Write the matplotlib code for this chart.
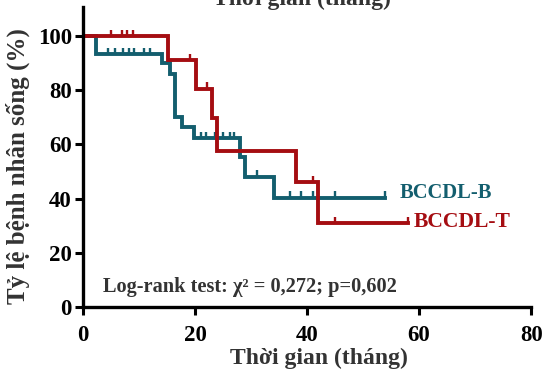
import numpy as np
import matplotlib
matplotlib.use("Agg")
import matplotlib.pyplot as plt

# BCCDL-B (xanh)
b_time = [0, 2.3, 14.1, 15.5, 16.5, 17.6, 19.8, 28.0, 28.9, 34.1, 54.0]
b_surv = [100, 93.3, 90.0, 86.0, 70.0, 66.4, 62.3, 55.5, 48.0, 40.3, 40.3]
b_cens = [4.5, 5.7, 7.1, 8.3, 9.2, 10.9, 12.0, 21.0, 22.0, 23.5, 25.0, 26.3, 27.0,
          31.0, 37.0, 39.0, 41.0, 45.0, 54.0]

# BCCDL-T (do)
t_time = [0, 15.1, 20.2, 23.1, 24.0, 38.0, 42.0, 58.0]
t_surv = [100, 91.0, 80.5, 69.6, 57.7, 46.0, 30.9, 30.9]
t_cens = [5.0, 6.9, 7.8, 9.0, 19.1, 22.1, 41.0, 45.0, 58.0]

blue = '#135e6e'
red = '#a50d12'
grey = '#333333'

plt.rcParams['font.family'] = ['Liberation Serif', 'DejaVu Serif']
plt.rcParams['font.weight'] = 'bold'

fig = plt.figure(figsize=(5.42, 3.73), dpi=100)
ax = fig.add_axes([0.153, 0.177, 0.827, 0.804])


def surv_at(times, surv, x):
    i = np.searchsorted(times, x, side='right') - 1
    return np.array(surv)[i]


for tt, ss, cc, col in [(b_time, b_surv, b_cens, blue), (t_time, t_surv, t_cens, red)]:
    ax.step(tt, ss, where='post', color=col, lw=2.8, solid_joinstyle='miter')
    cy = surv_at(tt, ss, cc)
    ax.vlines(cc, cy, cy + 2.4, color=col, lw=1.7)

ax.set_xlim(0, 80)
ax.set_ylim(0, 110.7)
ax.set_xticks([0, 20, 40, 60, 80])
ax.set_yticks([0, 20, 40, 60, 80, 100])
for s in ['top', 'right']:
    ax.spines[s].set_visible(False)
for s in ['left', 'bottom']:
    ax.spines[s].set_linewidth(2.4)
ax.tick_params(width=2.2, length=6, labelsize=16.5)
ax.tick_params(axis='x', pad=7)
ax.tick_params(axis='y', pad=2)
for lab in ax.get_xticklabels() + ax.get_yticklabels():
    lab.set_fontweight('bold')

ax.set_xlabel('Thời gian (tháng)', fontsize=17, fontweight='bold', color=grey)
ax.set_ylabel('Tỷ lệ bệnh nhân sống (%)', fontsize=18, fontweight='bold', color=grey)
ax.xaxis.set_label_coords(0.527, -0.135)
ax.yaxis.set_label_coords(-0.118, 0.47)

ax.text(56.5, 42, 'BCCDL-B', color=blue, fontsize=14.8, fontweight='bold', va='center')
ax.text(59.1, 31.5, 'BCCDL-T', color=red, fontsize=15.6, fontweight='bold', va='center')
ax.text(3.5, 7.3, 'Log-rank test: χ² = 0,272; p=0,602', color=grey,
        fontsize=14.7, fontweight='bold', va='center')

# phan chu bi cat o tren
fig.text(0.558, 0.987, 'Thời gian (tháng)', fontsize=17, fontweight='bold', color=grey,
         ha='center', va='baseline')

fig.savefig('out.png', dpi=100)
